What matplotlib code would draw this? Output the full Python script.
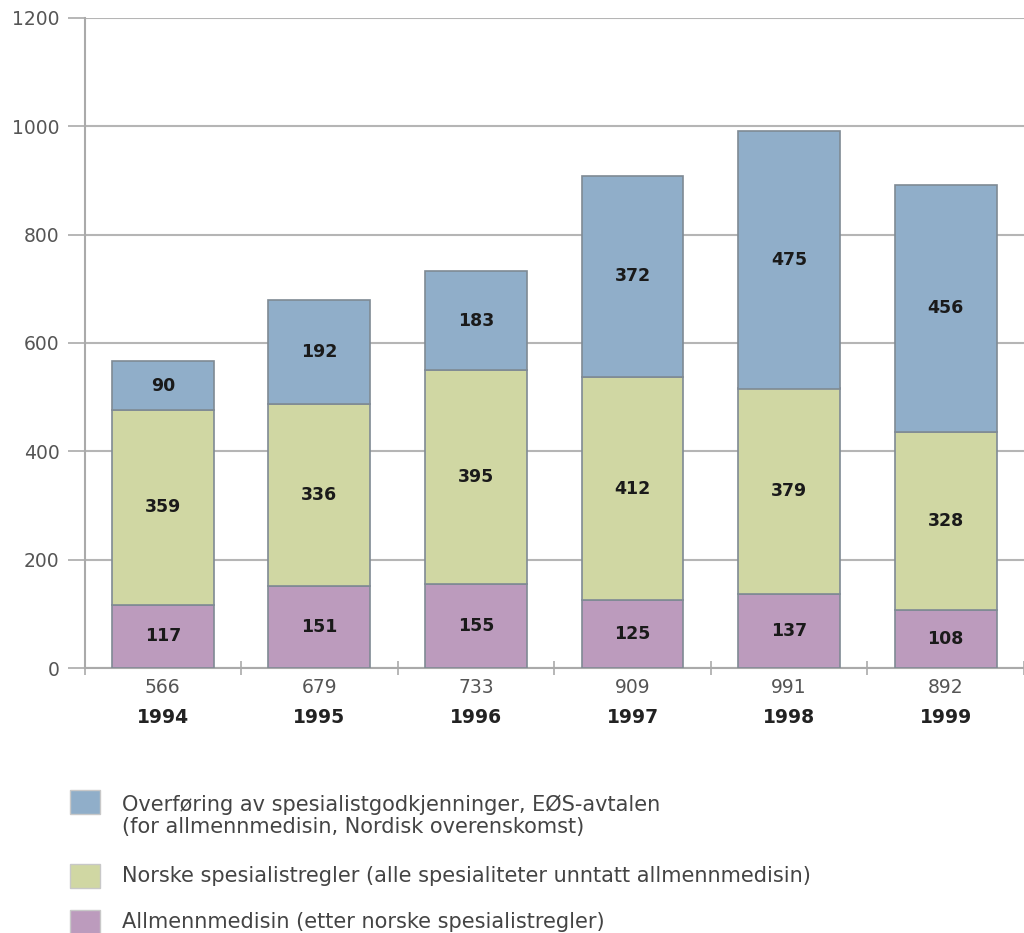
import matplotlib.pyplot as plt
import matplotlib.patches as mpatches
import numpy as np

# data
years = ["1994", "1995", "1996", "1997", "1998", "1999"]
allmenn = [117, 151, 155, 125, 137, 108]
norske = [359, 336, 395, 412, 379, 328]
eos = [90, 192, 183, 372, 475, 456]
totals = [566, 679, 733, 909, 991, 892]

labels = [
    "Overføring av spesialistgodkjenninger, EØS-avtalen\n(for allmennmedisin, Nordisk overenskomst)",
    "Norske spesialistregler (alle spesialiteter unntatt allmennmedisin)",
    "Allmennmedisin (etter norske spesialistregler)",
]
c_blue = "#90aec9"
c_green = "#d0d7a3"
c_purple = "#bc9bbd"
edge = "#7f8a94"

W, H = 1024, 933
fig = plt.figure(figsize=(W / 100, H / 100), dpi=100)
ax = fig.add_axes([84.5 / W, 265 / H, 1 - 84.5 / W, 650 / H])

x = np.arange(len(years))
w = 0.65
bottom2 = np.array(allmenn)
bottom3 = bottom2 + np.array(norske)
ax.bar(x, allmenn, w, color=c_purple, edgecolor=edge, linewidth=1.2, zorder=3)
ax.bar(x, norske, w, bottom=bottom2, color=c_green, edgecolor=edge, linewidth=1.2, zorder=3)
ax.bar(x, eos, w, bottom=bottom3, color=c_blue, edgecolor=edge, linewidth=1.2, zorder=3)

# verdier i segmentene
for i in range(len(years)):
    for val, base in [(allmenn[i], 0), (norske[i], bottom2[i]), (eos[i], bottom3[i])]:
        ax.text(x[i], base + val / 2, str(val), ha="center", va="center",
                fontsize=12.5, fontweight="bold", color="#1a1a1a", zorder=4)

ax.set_xlim(-0.5, 5.435)
ax.set_ylim(0, 1200)
ax.set_yticks(range(0, 1201, 200))
ax.tick_params(axis="y", labelsize=13.5, labelcolor="#555555", color="#aaaaaa",
               length=12, width=1.2, pad=6)
ax.yaxis.grid(True, color="#b5b5b5", linewidth=1.5, zorder=0)

# kategorigrenser som ticks, etiketter i midten
ax.set_xticks(np.arange(-0.5, 5.6, 1.0))
ax.set_xticklabels([])
ax.tick_params(axis="x", which="major", color="#aaaaaa", length=10, width=1.2, direction="inout")
ax.set_xticks(x, minor=True)
ax.set_xticklabels([str(t) for t in totals], minor=True)
ax.tick_params(axis="x", which="minor", length=0, labelsize=13.5, labelcolor="#555555", pad=7)
for i in range(len(years)):
    ax.text(x[i], -0.061, years[i], transform=ax.get_xaxis_transform(), ha="center",
            va="top", fontsize=13.5, fontweight="bold", color="#222222")

for s in ["top", "right"]:
    ax.spines[s].set_visible(False)
for s in ["left", "bottom"]:
    ax.spines[s].set_color("#aaaaaa")
    ax.spines[s].set_linewidth(1.5)

# forklaring under diagrammet
colors = [c_blue, c_green, c_purple]
box_y = [802, 876, 922]  # pikselhøyde (fra toppen) for midten av boksene
text_y = [816, 876, 922]
for col, lab, by, ty in zip(colors, labels, box_y, text_y):
    fig.add_artist(mpatches.Rectangle((70 / W, 1 - (by + 12) / H), 30 / W, 24 / H,
                                      transform=fig.transFigure, facecolor=col,
                                      edgecolor="#c8c8c8", linewidth=1))
    fig.text(122 / W, 1 - ty / H, lab, ha="left", va="center", fontsize=15,
             color="#444444", linespacing=1.15)

fig.savefig("out.png", dpi=100)
